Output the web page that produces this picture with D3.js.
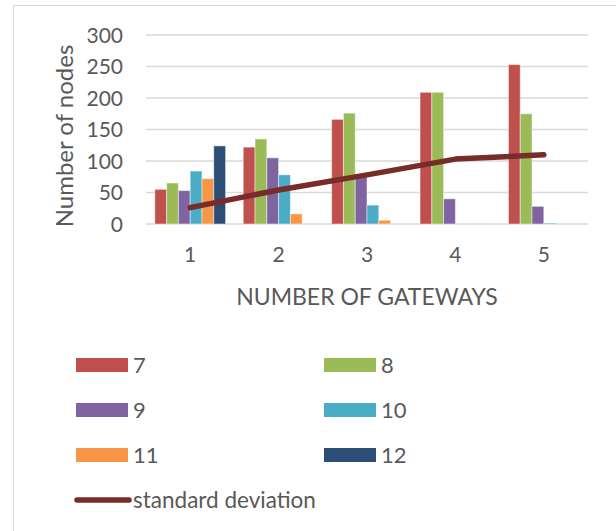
<!DOCTYPE html>
<html>
<head>
<meta charset="utf-8">
<script src="https://cdn.jsdelivr.net/npm/d3@7"></script>
<style>
  html, body { margin: 0; padding: 0; background: #fff; }
  svg { display: block; }
  text { font-family: Lato, "Open Sans", sans-serif; fill: #595959; }
</style>
</head>
<body>
<svg id="chart" width="616" height="531"></svg>
<script>
// Gateway counts on the x axis
const gateways = ["1", "2", "3", "4", "5"];
// Series names (node groups)
const seriesNames = ["7", "8", "9", "10", "11", "12"];
// Number of nodes per series, one value per gateway count
const s7  = [55, 122, 166, 209, 253];
const s8  = [65, 135, 176, 209, 175];
const s9  = [53, 105, 75, 40, 28];
const s10 = [84, 78, 30, 0, 1.5];
const s11 = [72, 16, 6, 0, 0];
const s12 = [124, 0, 0, 0, 0];
// Standard deviation line
const stdDev = [26, 54, 78, 103, 110];
const yTicks = [0, 50, 100, 150, 200, 250, 300];

const seriesValues = [s7, s8, s9, s10, s11, s12];
const seriesColors = ["#C0504D", "#9BBB59", "#8064A2", "#4BACC6", "#F79646", "#2C4D75"];
const lineColor = "#772C2A";

const svg = d3.select("#chart");

// outer frame (top and left edges visible)
svg.append("path")
  .attr("d", "M13.5,531 V5.5 H616")
  .attr("fill", "none").attr("stroke", "#d9d9d9").attr("stroke-width", 1);

const plot = { left: 146, right: 588, top: 35, bottom: 224 };

const x = d3.scaleBand().domain(gateways)
  .range([plot.left, plot.right]).paddingInner(0.2).paddingOuter(0.1);
const xCenter = d3.scalePoint().domain(gateways)
  .range([plot.left, plot.right]).padding(0.5);
const xs = d3.scaleBand().domain(seriesNames).range([0, x.bandwidth()]);
const y = d3.scaleLinear().domain([0, 300]).range([plot.bottom, plot.top]);

// gridlines
svg.append("g").selectAll("line").data(yTicks).join("line")
  .attr("x1", plot.left).attr("x2", plot.right)
  .attr("y1", d => y(d)).attr("y2", d => y(d))
  .attr("stroke", "#d9d9d9").attr("stroke-width", 1.5);

// y tick labels
svg.append("g").selectAll("text").data(yTicks).join("text")
  .attr("x", 123).attr("y", d => y(d))
  .attr("dy", "0.36em").attr("text-anchor", "end")
  .attr("font-size", 21).text(d => d);

// bars
const barData = [];
seriesValues.forEach((vals, si) => {
  vals.forEach((v, gi) => barData.push({ s: seriesNames[si], g: gateways[gi], v, c: seriesColors[si] }));
});
svg.append("g").selectAll("rect").data(barData.filter(d => d.v > 0)).join("rect")
  .attr("x", d => x(d.g) + xs(d.s))
  .attr("y", d => y(d.v))
  .attr("width", xs.bandwidth())
  .attr("height", d => y(0) - y(d.v))
  .attr("fill", d => d.c)
  .attr("stroke", "#ffffff").attr("stroke-opacity", 0.45).attr("stroke-width", 1);

// standard deviation line
svg.append("path")
  .datum(stdDev)
  .attr("d", d3.line().x((d, i) => xCenter(gateways[i])).y(d => y(d)))
  .attr("fill", "none").attr("stroke", lineColor)
  .attr("stroke-width", 5.5).attr("stroke-linecap", "round").attr("stroke-linejoin", "round");

// x tick labels
svg.append("g").selectAll("text").data(gateways).join("text")
  .attr("x", d => xCenter(d)).attr("y", 262)
  .attr("text-anchor", "middle").attr("font-size", 21).text(d => d);

// axis titles
svg.append("text")
  .attr("x", 367).attr("y", 305).attr("text-anchor", "middle")
  .attr("font-size", 23).text("NUMBER OF GATEWAYS");

svg.append("text")
  .attr("transform", "translate(73,136) rotate(-90)")
  .attr("text-anchor", "middle").attr("font-size", 24).text("Number of nodes");

// legend
const legend = svg.append("g");
const colX = [76, 324];
const rowY = [365, 410, 455];
seriesNames.forEach((name, i) => {
  const cx = colX[i % 2], cy = rowY[Math.floor(i / 2)];
  legend.append("rect")
    .attr("x", cx).attr("y", cy - 7).attr("width", 52).attr("height", 14)
    .attr("fill", seriesColors[i]);
  legend.append("text")
    .attr("x", cx + 57).attr("y", cy).attr("dy", "0.36em")
    .attr("font-size", 22).text(name);
});
legend.append("line")
  .attr("x1", 77).attr("x2", 129).attr("y1", 500).attr("y2", 500)
  .attr("stroke", lineColor).attr("stroke-width", 5.5).attr("stroke-linecap", "round");
legend.append("text")
  .attr("x", 133).attr("y", 500).attr("dy", "0.36em")
  .attr("font-size", 22.5).text("standard deviation");
</script>
</body>
</html>
